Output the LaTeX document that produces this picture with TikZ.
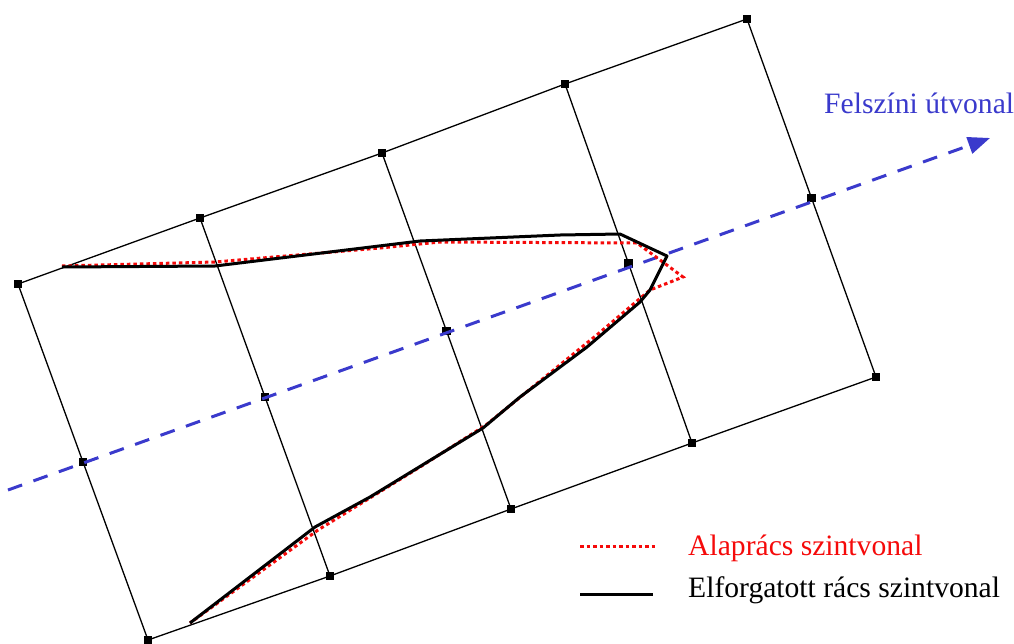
\documentclass[tikz,border=0pt]{standalone}
\usepackage{fontspec}
\setmainfont{Liberation Serif}
\usetikzlibrary{arrows.meta,calc}
\definecolor{routeblue}{RGB}{58,58,204}
\definecolor{basered}{RGB}{245,10,10}
\tikzset{
  gridline/.style={line width=1.3pt,black},
  gridpt/.style={rectangle,fill=black,inner sep=0pt,minimum size=8.5pt},
  route/.style={routeblue,line width=3pt,dash pattern=on 15pt off 12pt,-{Triangle[length=22pt,width=17pt]}},
  baseline/.style={basered,line width=3pt,dash pattern=on 3.5pt off 3pt},
  rotline/.style={black,line width=3pt,line join=round},
  label/.style={anchor=base west,inner sep=0pt,font=\fontsize{29.6}{32}\selectfont}
}

\begin{document}
\begin{tikzpicture}[x=1pt,y=-1pt]
  \useasboundingbox (0,0) rectangle (1014,643);
  % grid corners, top and bottom edge
  \foreach \n/\tx/\ty/\bx/\by in {0/18/284/148/640,1/200/218/330/576,2/382/153/511/509,3/565/84/692/443,4/747/19/876/377} {
    \coordinate (t\n) at (\tx,\ty);
    \coordinate (b\n) at (\bx,\by);
    \coordinate (m\n) at ($(t\n)!0.5!(b\n)$);
  }
  \draw[gridline] (t0) -- (t1) -- (t2) -- (t3) -- (t4);
  \draw[gridline] (b0) -- (b1) -- (b2) -- (b3) -- (b4);
  \foreach \n in {0,...,4} {
    \draw[gridline] (t\n) -- (b\n);
    \node[gridpt] (dt\n) at (t\n) {};
    \node[gridpt] (dm\n) at (m\n) {};
    \node[gridpt] (db\n) at (b\n) {};
  }
  % surface route
  \coordinate (rstart) at (8,490);
  \coordinate (rend) at (990,138);
  \draw[route] (rstart) -- (rend);
  \node[label,text=routeblue] (routelbl) at (824,113) {Felszíni útvonal};
  % contour lines
  \draw[baseline] (62,266) -- (215,262) -- (380,248) -- (440,242) -- (637,243) -- (683,277)
    -- (650,290) -- (598,334) -- (540,381) -- (486,425) -- (420,467) -- (318,530) -- (190,623);
  \draw[rotline] (62,267) -- (215,266) -- (420,241) -- (560,235) -- (620,234) -- (667,256)
    -- (650,290) -- (640,302) -- (587,347) -- (520,397) -- (483,428) -- (370,497) -- (315,527) -- (190,623);
  % legend
  \coordinate (lr0) at (580,546);
  \coordinate (lr1) at (655,546);
  \coordinate (lb0) at (580,594);
  \coordinate (lb1) at (653,594);
  \draw[baseline] (lr0) -- (lr1);
  \draw[rotline] (lb0) -- (lb1);
  \node[label,text=basered] (lgred) at (688,555) {Alaprács szintvonal};
  \node[label] (lgblack) at (688,597) {Elforgatott rács szintvonal};
\end{tikzpicture}
\end{document}
